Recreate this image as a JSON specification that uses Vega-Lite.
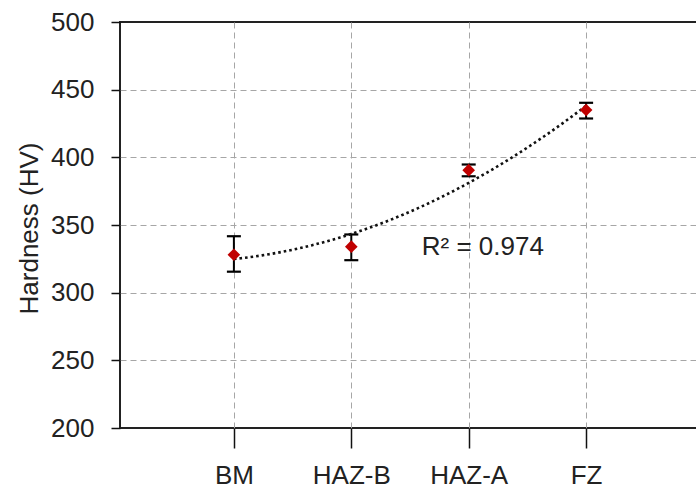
{
  "$schema": "https://vega.github.io/schema/vega-lite/v6.json",
  "autosize": {"type": "none"},
  "padding": {"left": 120, "top": 22, "right": 0, "bottom": 63},
  "width": 580,
  "height": 406,
  "background": "white",
  "config": {
    "font": "Liberation Sans",
    "view": {"stroke": "#222", "strokeWidth": 2},
    "axis": {
      "domain": false,
      "gridColor": "#a6a6a6",
      "gridDash": [6, 4],
      "gridWidth": 1,
      "tickColor": "#111",
      "tickWidth": 1.5,
      "labelColor": "#222",
      "labelFont": "Liberation Sans",
      "labelFontSize": 26,
      "titleFont": "Liberation Sans",
      "titleColor": "#222",
      "titleFontWeight": "normal"
    }
  },
  "data": {
    "values": [
      {"zone": "BM", "idx": 1, "hv": 328, "lo": 315.5, "hi": 341.7},
      {"zone": "HAZ-B", "idx": 2, "hv": 334, "lo": 324, "hi": 343},
      {"zone": "HAZ-A", "idx": 3, "hv": 390.5, "lo": 386, "hi": 394.7},
      {"zone": "FZ", "idx": 4, "hv": 435, "lo": 428.7, "hi": 440.3}
    ]
  },
  "encoding": {
    "y": {
      "type": "quantitative",
      "scale": {"domain": [200, 500], "nice": false, "zero": false},
      "axis": {
        "values": [200, 250, 300, 350, 400, 450, 500],
        "grid": true,
        "gridOpacity": {"condition": {"test": "datum.value == 200 || datum.value == 500", "value": 0}, "value": 1},
        "tickSize": 9,
        "labelPadding": 17,
        "title": "Hardness (HV)",
        "titleFontSize": 26,
        "titleX": -91,
        "titleY": 206,
        "titleAngle": -90,
        "titleAlign": "center",
        "titleBaseline": "middle"
      }
    }
  },
  "layer": [
    {
      "encoding": {
        "x": {
          "field": "zone",
          "type": "ordinal",
          "sort": null,
          "scale": {"type": "point", "padding": 0.97},
          "axis": {
            "title": null,
            "labelAngle": 0,
            "grid": true,
            "tickSize": 20,
            "labelPadding": 14
          }
        }
      },
      "layer": [
        {
          "mark": {"type": "rule", "color": "#000", "strokeWidth": 2},
          "encoding": {"y": {"field": "lo"}, "y2": {"field": "hi"}}
        },
        {
          "mark": {"type": "tick", "orient": "horizontal", "color": "#000", "size": 14, "thickness": 2.2, "opacity": 1},
          "encoding": {"y": {"field": "lo"}}
        },
        {
          "mark": {"type": "tick", "orient": "horizontal", "color": "#000", "size": 14, "thickness": 2.2, "opacity": 1},
          "encoding": {"y": {"field": "hi"}}
        }
      ]
    },
    {
      "encoding": {
        "x": {
          "type": "quantitative",
          "scale": {"domain": [0.03, 4.97], "nice": false, "zero": false},
          "axis": null
        }
      },
      "layer": [
        {
          "transform": [
            {"regression": "hv", "on": "idx", "method": "poly", "order": 2, "extent": [1, 4]}
          ],
          "mark": {"type": "line", "color": "#111", "strokeWidth": 2.6, "strokeDash": [2.6, 3], "interpolate": "monotone"},
          "encoding": {"x": {"field": "idx"}, "y": {"field": "hv"}}
        },
        {
          "mark": {"type": "point", "shape": "diamond", "filled": true, "color": "#c00000", "size": 160, "opacity": 1},
          "encoding": {"x": {"field": "idx"}, "y": {"field": "hv"}}
        },
        {
          "data": {"values": [{"label": "R² = 0.974", "lx": 2.6, "ly": 334}]},
          "mark": {"type": "text", "align": "left", "baseline": "middle", "fontSize": 26, "color": "#222", "font": "Liberation Sans"},
          "encoding": {"x": {"field": "lx"}, "y": {"field": "ly"}, "text": {"field": "label"}}
        }
      ]
    }
  ],
  "resolve": {"scale": {"x": "independent"}}
}
